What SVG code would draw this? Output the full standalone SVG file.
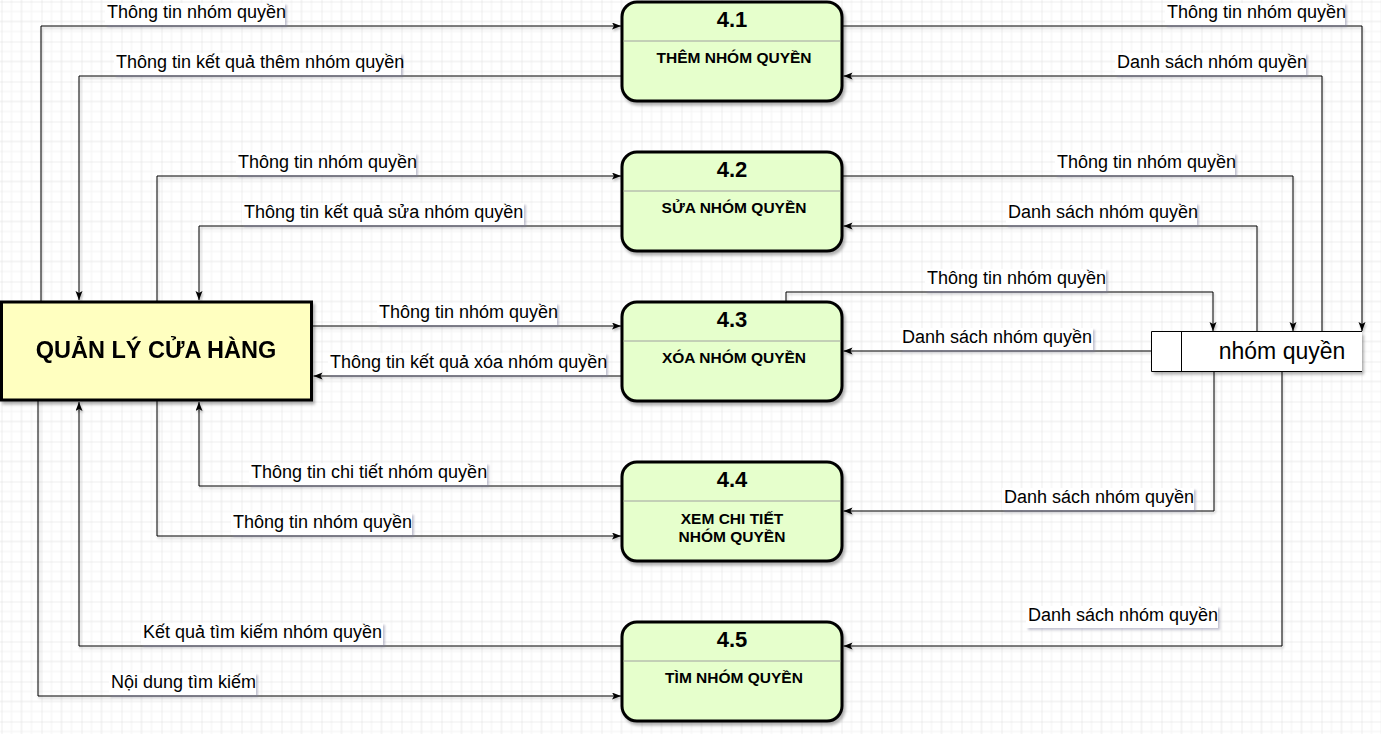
<svg xmlns="http://www.w3.org/2000/svg" width="1381" height="734" viewBox="0 0 1381 734">
<defs>
<pattern id="grid" x="1.5" y="1.5" width="40" height="40" patternUnits="userSpaceOnUse">
<rect width="40" height="40" fill="#ffffff"/>
<path d="M10,0V40M30,0V40M0,10H40M0,30H40" stroke="#f3f3f3" stroke-width="1"/>
<path d="M20,0V40M0,20H40" stroke="#e9e9e9" stroke-width="1"/>
<path d="M0,0V40M0,0H40" stroke="#dedede" stroke-width="1"/>
</pattern>
<filter id="sh" x="-10%" y="-10%" width="130%" height="140%">
<feDropShadow dx="2" dy="3" stdDeviation="1.5" flood-color="#000000" flood-opacity="0.3"/>
</filter>
<filter id="lsh" x="-10%" y="-20%" width="130%" height="160%">
<feDropShadow dx="2" dy="2" stdDeviation="1" flood-color="#7a7a99" flood-opacity="0.45"/>
</filter>
<filter id="csh" x="-5%" y="-5%" width="110%" height="110%">
<feDropShadow dx="1" dy="2" stdDeviation="0.8" flood-color="#000000" flood-opacity="0.25"/>
</filter>
<marker id="arr" markerUnits="userSpaceOnUse" markerWidth="10" markerHeight="8" refX="9" refY="3.5" orient="auto">
<path d="M0,0 L9,3.5 L0,7 L2,3.5 z" fill="#000000"/>
</marker>
<style>
.conn path{fill:none;stroke:#000000;stroke-width:1;marker-end:url(#arr);}
.proc rect{fill:#e6ffcc;stroke:#000000;stroke-width:3;}
.proc line{stroke:#a0a0a0;stroke-width:1;}
.num{font-family:"Liberation Sans",Arial,sans-serif;font-size:22px;font-weight:bold;text-anchor:middle;fill:#000000;}
.pname{font-family:"Liberation Sans",Arial,sans-serif;font-size:15.5px;font-weight:bold;text-anchor:middle;fill:#000000;}
.lbl text{font-family:"Liberation Sans",Arial,sans-serif;font-size:18px;fill:#000000;}
.lbl rect{fill:#ffffff;filter:url(#lsh);}
</style>
</defs>
<rect x="0" y="0" width="1381" height="734" fill="url(#grid)"/>

<g id="connectors" class="conn" filter="url(#csh)">
<path d="M41,302 V26 H621"/>
<path d="M622,76 H79 V300"/>
<path d="M842,26 H1362 V331"/>
<path d="M1322,331.5 V76 H843.5"/>
<path d="M157,302 V176 H621"/>
<path d="M622,226 H199 V300"/>
<path d="M842,176 H1293 V331"/>
<path d="M1257,331.5 V226 H843.5"/>
<path d="M786,302 V292 H1213 V331"/>
<path d="M1151.5,351 H843.5"/>
<path d="M312,326 H621"/>
<path d="M622,376 H313.5"/>
<path d="M622,486 H199 V402"/>
<path d="M157,400 V536 H621"/>
<path d="M1214,371.5 V511 H843.5"/>
<path d="M622,646 H79 V402"/>
<path d="M38,400 V696 H621"/>
<path d="M1282,371.5 V646 H843.5"/>
</g>

<g id="labels" class="lbl">
<rect x="105" y="3" width="180" height="22"/><text x="107" y="18">Thông tin nhóm quyền</text>
<rect x="114" y="53" width="287" height="22"/><text x="116" y="68">Thông tin kết quả thêm nhóm quyền</text>
<rect x="1165" y="3" width="180" height="22"/><text x="1167" y="18">Thông tin nhóm quyền</text>
<rect x="1115" y="53" width="191" height="22"/><text x="1117" y="68">Danh sách nhóm quyền</text>
<rect x="236" y="153" width="180" height="22"/><text x="238" y="168">Thông tin nhóm quyền</text>
<rect x="242" y="203" width="282" height="22"/><text x="244" y="218">Thông tin kết quả sửa nhóm quyền</text>
<rect x="1055" y="153" width="180" height="22"/><text x="1057" y="168">Thông tin nhóm quyền</text>
<rect x="1006" y="203" width="191" height="22"/><text x="1008" y="218">Danh sách nhóm quyền</text>
<rect x="925" y="269" width="181" height="22"/><text x="927" y="284">Thông tin nhóm quyền</text>
<rect x="900" y="328" width="193" height="22"/><text x="902" y="343">Danh sách nhóm quyền</text>
<rect x="377" y="303" width="180" height="22"/><text x="379" y="318">Thông tin nhóm quyền</text>
<rect x="328" y="353" width="278" height="22"/><text x="330" y="368">Thông tin kết quả xóa nhóm quyền</text>
<rect x="249" y="463" width="238" height="22"/><text x="251" y="478">Thông tin chi tiết nhóm quyền</text>
<rect x="231" y="513" width="181" height="22"/><text x="233" y="528">Thông tin nhóm quyền</text>
<rect x="1002" y="488" width="192" height="22"/><text x="1004" y="503">Danh sách nhóm quyền</text>
<rect x="141" y="623" width="242" height="22"/><text x="143" y="638">Kết quả tìm kiếm nhóm quyền</text>
<rect x="109" y="673" width="147" height="22"/><text x="111" y="688">Nội dung tìm kiếm</text>
<rect x="1026" y="606" width="192" height="22"/><text x="1028" y="621">Danh sách nhóm quyền</text>
</g>

<g id="quanly" filter="url(#sh)">
<rect x="1.5" y="302" width="310" height="98" fill="#ffffc0" stroke="#000000" stroke-width="3"/>
<text x="156" y="358" font-family="'Liberation Sans',Arial,sans-serif" font-size="23.5" font-weight="bold" text-anchor="middle" fill="#000000">QUẢN LÝ CỬA HÀNG</text>
</g>

<g id="p41" class="proc">
<rect x="622" y="2" width="220" height="99" rx="15" filter="url(#sh)"/>
<line x1="623.5" y1="41" x2="840.5" y2="41"/>
<text class="num" x="732" y="27">4.1</text>
<text class="pname" x="734" y="63">THÊM NHÓM QUYỀN</text>
</g>

<g id="p42" class="proc">
<rect x="622" y="152" width="220" height="99" rx="15" filter="url(#sh)"/>
<line x1="623.5" y1="191" x2="840.5" y2="191"/>
<text class="num" x="732" y="177">4.2</text>
<text class="pname" x="734" y="213">SỬA NHÓM QUYỀN</text>
</g>

<g id="p43" class="proc">
<rect x="622" y="302" width="220" height="99" rx="15" filter="url(#sh)"/>
<line x1="623.5" y1="341" x2="840.5" y2="341"/>
<text class="num" x="732" y="327">4.3</text>
<text class="pname" x="734" y="363">XÓA NHÓM QUYỀN</text>
</g>

<g id="p44" class="proc">
<rect x="622" y="462" width="220" height="99" rx="15" filter="url(#sh)"/>
<line x1="623.5" y1="501" x2="840.5" y2="501"/>
<text class="num" x="732" y="487">4.4</text>
<text class="pname" x="732" y="524">XEM CHI TIẾT</text>
<text class="pname" x="732" y="542">NHÓM QUYỀN</text>
</g>

<g id="p45" class="proc">
<rect x="622" y="622" width="220" height="99" rx="15" filter="url(#sh)"/>
<line x1="623.5" y1="661" x2="840.5" y2="661"/>
<text class="num" x="732" y="647">4.5</text>
<text class="pname" x="734" y="683">TÌM NHÓM QUYỀN</text>
</g>

<g id="store">
<rect x="1151.5" y="331.5" width="210.5" height="40" fill="#ffffff" filter="url(#sh)"/>
<path d="M1362,331.5 H1151.5 V371.5 H1362 M1181.5,331.5 V371.5" fill="none" stroke="#000000" stroke-width="1"/>
<text x="1282" y="359" font-family="'Liberation Sans',Arial,sans-serif" font-size="23" text-anchor="middle" fill="#000000">nhóm quyền</text>
</g>
</svg>
